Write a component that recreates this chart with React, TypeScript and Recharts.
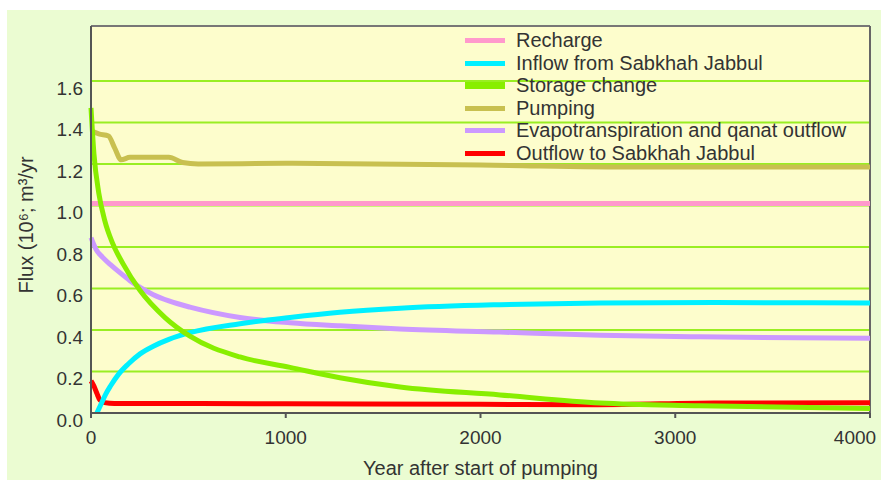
import { LineChart, Line, XAxis, YAxis, CartesianGrid, ReferenceLine } from "recharts";

// [year, flux] pairs
const recharge = [[0, 1.01], [4000, 1.01]];
const inflow = [
    [30, 0], [50, 0.04], [75, 0.09], [100, 0.13], [140, 0.185], [190, 0.235], [252, 0.285],
    [320, 0.322], [400, 0.355], [508, 0.387], [765, 0.43], [1022, 0.46], [1278, 0.485],
    [1587, 0.505], [2100, 0.522], [2614, 0.53], [3200, 0.532], [4000, 0.53],
];
const storage = [
    [0, 1.47], [15, 1.25], [40, 1.06], [70, 0.93], [110, 0.82], [164, 0.72], [252, 0.59],
    [380, 0.46], [508, 0.37], [765, 0.27], [1022, 0.22], [1278, 0.17], [1587, 0.125],
    [2100, 0.087], [2614, 0.048], [3127, 0.035], [4000, 0.022],
];
const pumping = [
    [0, 1.36], [40, 1.345], [90, 1.335], [120, 1.28], [155, 1.22], [200, 1.232], [400, 1.232],
    [470, 1.207], [550, 1.2], [1000, 1.203], [2000, 1.195], [2800, 1.185], [4000, 1.185],
];
const evapo = [
    [0, 0.845], [25, 0.79], [60, 0.75], [100, 0.715], [150, 0.675], [200, 0.638], [252, 0.605],
    [320, 0.57], [400, 0.54], [508, 0.51], [765, 0.46], [1022, 0.435], [1278, 0.42],
    [1587, 0.405], [2100, 0.39], [2614, 0.375], [3127, 0.367], [4000, 0.36],
];
const outflow = [
    [0, 0.155], [15, 0.13], [30, 0.095], [46, 0.062], [70, 0.05], [120, 0.046], [1000, 0.045],
    [2000, 0.042], [2600, 0.04], [3200, 0.048], [4000, 0.05],
];

const xTicks = [0, 1000, 2000, 3000, 4000];
const yTicks = [0, 0.2, 0.4, 0.6, 0.8, 1.0, 1.2, 1.4, 1.6];
const yMax = 1.865;

const legendItems = [
    { name: "Recharge", color: "#ff99cc", h: 5 },
    { name: "Inflow from Sabkhah Jabbul", color: "#00f0ff", h: 5 },
    { name: "Storage change", color: "#88ee00", h: 7 },
    { name: "Pumping", color: "#c8c050", h: 5 },
    { name: "Evapotranspiration and qanat outflow", color: "#cc99ff", h: 5 },
    { name: "Outflow to Sabkhah Jabbul", color: "#ff0000", h: 5 },
];

const toRows = (pts: number[][]) => pts.map(([year, flux]) => ({ year, flux }));

const font = "'Liberation Sans', Arial, sans-serif";
const tickStyle = { fill: "#333", fontSize: 19, fontFamily: font };

// last label sits at the right edge of the page, nudge it in so it isn't clipped
function XTick(props: any) {
    const { x, y, payload } = props;
    const last = payload.value === xTicks[xTicks.length - 1];
    return (
        <text x={last ? x - 10 : x} y={y} dy="0.9em" textAnchor="middle" {...tickStyle}>
            {payload.value}
        </text>
    );
}

export default function App() {
    return (
        <div style={{ position: "absolute", left: 0, top: 0, width: 881, height: 480, background: "#fff", overflow: "hidden" }}>
            <div style={{ position: "absolute", left: 7, top: 10, width: 874, height: 470, background: "#ebfcd2" }} />
            <LineChart
                width={881}
                height={480}
                margin={{ top: 26, right: 11, left: 0, bottom: 0 }}
                style={{ position: "absolute", left: 0, top: 0 }}
            >
                <CartesianGrid vertical={false} stroke="#99ee22" strokeWidth={2} fill="#fdfdcc" fillOpacity={1} />
                <XAxis
                    dataKey="year"
                    type="number"
                    domain={[0, 4000]}
                    ticks={xTicks}
                    height={67}
                    tickSize={5}
                    tickMargin={9}
                    tick={<XTick />}
                    axisLine={{ stroke: "#555", strokeWidth: 2 }}
                    tickLine={{ stroke: "#555", strokeWidth: 2 }}
                    label={{ value: "Year after start of pumping", position: "insideBottom", offset: 5, fill: "#333", fontSize: 20, fontFamily: font }}
                />
                <YAxis
                    type="number"
                    domain={[0, yMax]}
                    ticks={yTicks}
                    width={91}
                    tickSize={0}
                    tickMargin={8}
                    tick={{ ...tickStyle, dy: 7 }}
                    tickFormatter={(v: number) => v.toFixed(1)}
                    axisLine={{ stroke: "#555", strokeWidth: 2 }}
                    label={{
                        content: () => (
                            <text x={26} y={225} transform="rotate(-90 26 225)" textAnchor="middle" dominantBaseline="central" fill="#333" fontSize={20} fontFamily={font}>
                                Flux (10⁶; m³/yr
                            </text>
                        ),
                    }}
                />
                <ReferenceLine y={yMax} stroke="#777" strokeWidth={2} />
                <ReferenceLine x={4000} stroke="#666" strokeWidth={2} />
                <Line data={toRows(recharge)} dataKey="flux" type="linear" stroke="#ff99cc" strokeWidth={5} dot={false} isAnimationActive={false} />
                <Line data={toRows(outflow)} dataKey="flux" type="monotone" stroke="#ff0000" strokeWidth={5} dot={false} isAnimationActive={false} />
                <Line data={toRows(evapo)} dataKey="flux" type="monotone" stroke="#cc99ff" strokeWidth={5} dot={false} isAnimationActive={false} />
                <Line data={toRows(inflow)} dataKey="flux" type="monotone" stroke="#00f0ff" strokeWidth={5} dot={false} isAnimationActive={false} />
                <Line data={toRows(pumping)} dataKey="flux" type="monotone" stroke="#c8c050" strokeWidth={5} dot={false} isAnimationActive={false} />
                <Line data={toRows(storage)} dataKey="flux" type="monotone" stroke="#88ee00" strokeWidth={5} dot={false} isAnimationActive={false} />
            </LineChart>
            <div style={{ position: "absolute", left: 465, top: 29.5, fontFamily: font, fontSize: 20, color: "#333" }}>
                {legendItems.map((item) => (
                    <div key={item.name} style={{ display: "flex", alignItems: "center", height: 22.5, whiteSpace: "nowrap" }}>
                        <span style={{ display: "inline-block", width: 40, height: item.h, background: item.color, marginRight: 11 }} />
                        <span>{item.name}</span>
                    </div>
                ))}
            </div>
        </div>
    );
}
